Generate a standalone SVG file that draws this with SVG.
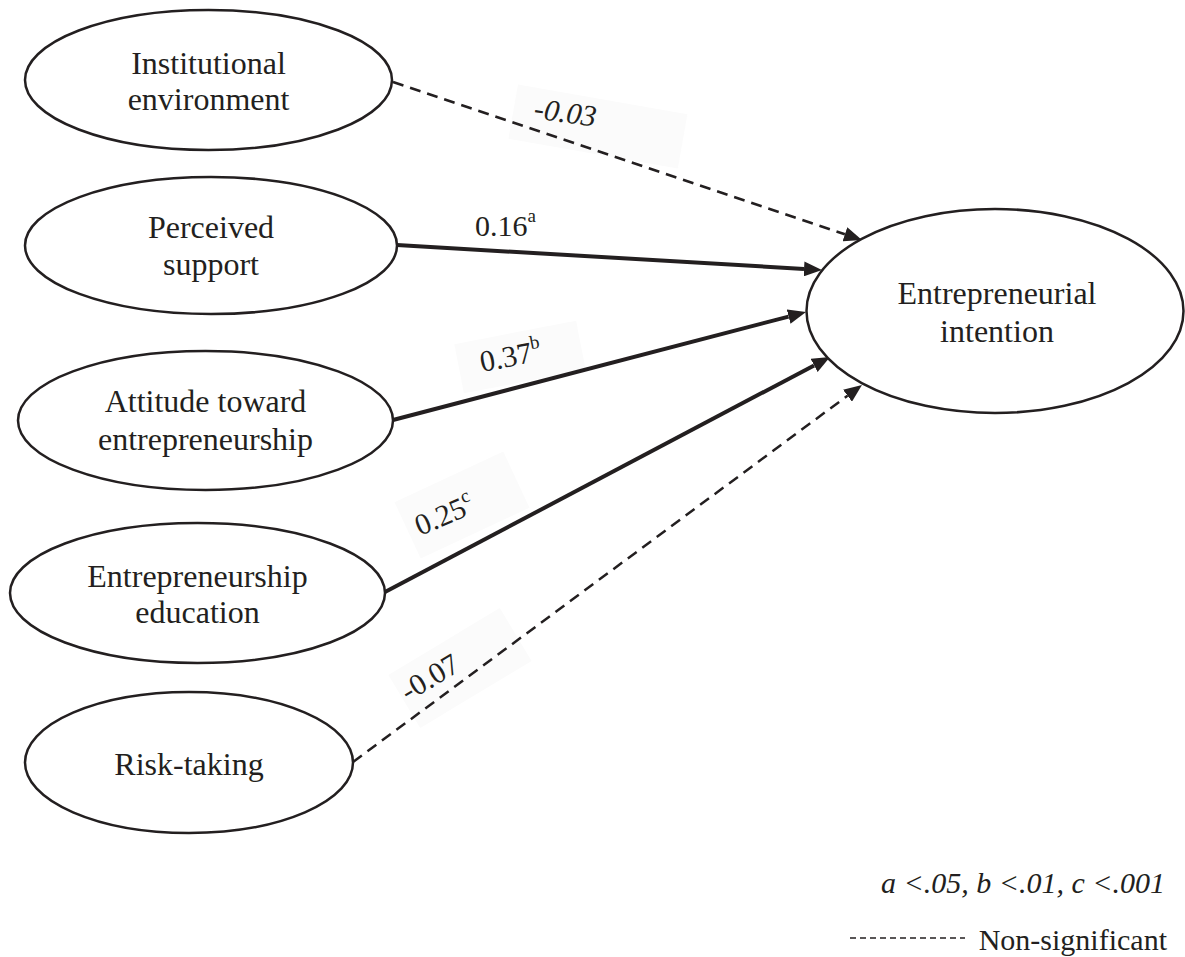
<svg xmlns="http://www.w3.org/2000/svg" width="1185" height="957" viewBox="0 0 1185 957">
<style>
.node ellipse{fill:#fff;stroke:#231f20;stroke-width:2.5}
.nt{font-family:"Liberation Serif","Times New Roman",serif;font-size:32px;fill:#231f20;text-anchor:middle}
.lbl{font-family:"Liberation Serif","Times New Roman",serif;font-size:30px;fill:#231f20}
.it{font-style:italic}
.solid{fill:none;stroke:#231f20;stroke-width:4}
.dash{fill:none;stroke:#231f20;stroke-width:2.5;stroke-dasharray:11 7}
.box{fill:#fbfbfb}
</style>
<defs>
<marker id="ah" markerUnits="userSpaceOnUse" markerWidth="18" markerHeight="15" refX="0" refY="7.5" orient="auto">
<path d="M0,0 L18,7.5 L0,15 z" fill="#231f20"/>
</marker>
</defs>
<rect width="1185" height="957" fill="#fff"/>
<g id="label-boxes">
<rect class="box" x="-86" y="-27" width="172" height="55" transform="translate(598 126) rotate(10)"/>
<rect class="box" x="-62" y="-25" width="124" height="50" transform="translate(520 357) rotate(-11)"/>
<rect class="box" x="-60" y="-31" width="120" height="62" transform="translate(462 505) rotate(-25)"/>
<rect class="box" x="-65" y="-31" width="130" height="62" transform="translate(460 668) rotate(-31)"/>
</g>
<g id="connectors">
<path class="dash" d="M393,82 L844.9,234.3" marker-end="url(#ah)"/>
<path class="solid" d="M397,245 L804,268.9" marker-end="url(#ah)"/>
<path class="solid" d="M393,420 L788.6,316.6" marker-end="url(#ah)"/>
<path class="solid" d="M385,592 L814.1,365.4" marker-end="url(#ah)"/>
<path class="dash" d="M353,762 L847.5,395.7" marker-end="url(#ah)"/>
</g>
<g id="edge-labels">
<text class="lbl it" x="533" y="118" transform="rotate(8 533 118)">-0.03</text>
<text class="lbl" x="475" y="236">0.16<tspan dy="-14" font-size="19">a</tspan></text>
<text class="lbl" x="482" y="372" transform="rotate(-11 482 372)">0.37<tspan dy="-13" font-size="19">b</tspan></text>
<text class="lbl" x="420" y="536" transform="rotate(-23 420 536)">0.25<tspan dy="-13" font-size="19">c</tspan></text>
<text class="lbl" x="408" y="702" transform="rotate(-31 408 702)">-0.07</text>
</g>
<g id="node-institutional" class="node">
<ellipse cx="208.5" cy="80" rx="183.5" ry="70"/>
<text class="nt" x="208.5" y="74">Institutional</text>
<text class="nt" x="208.5" y="110">environment</text>
</g>
<g id="node-support" class="node">
<ellipse cx="211" cy="245.5" rx="186" ry="68.5"/>
<text class="nt" x="211" y="238">Perceived</text>
<text class="nt" x="211" y="275">support</text>
</g>
<g id="node-attitude" class="node">
<ellipse cx="205.5" cy="420.5" rx="187.5" ry="69.5"/>
<text class="nt" x="205.5" y="412">Attitude toward</text>
<text class="nt" x="205.5" y="450">entrepreneurship</text>
</g>
<g id="node-education" class="node">
<ellipse cx="197.5" cy="593" rx="187.5" ry="70"/>
<text class="nt" x="197.5" y="587">Entrepreneurship</text>
<text class="nt" x="197.5" y="623">education</text>
</g>
<g id="node-risk" class="node">
<ellipse cx="189" cy="762.5" rx="164" ry="70.5"/>
<text class="nt" x="189" y="775">Risk-taking</text>
</g>
<g id="node-intention" class="node">
<ellipse cx="995" cy="311" rx="188.5" ry="102"/>
<text class="nt" x="997" y="304">Entrepreneurial</text>
<text class="nt" x="997" y="342">intention</text>
</g>
<g id="legend">
<text class="lbl it" x="1165" y="893" text-anchor="end" font-size="29">a &lt;.05, b &lt;.01, c &lt;.001</text>
<line x1="850" y1="938" x2="965" y2="938" stroke="#231f20" stroke-width="1.5" stroke-dasharray="6 4"/>
<text class="lbl" x="1167" y="950" text-anchor="end" font-size="28">Non-significant</text>
</g>
</svg>
